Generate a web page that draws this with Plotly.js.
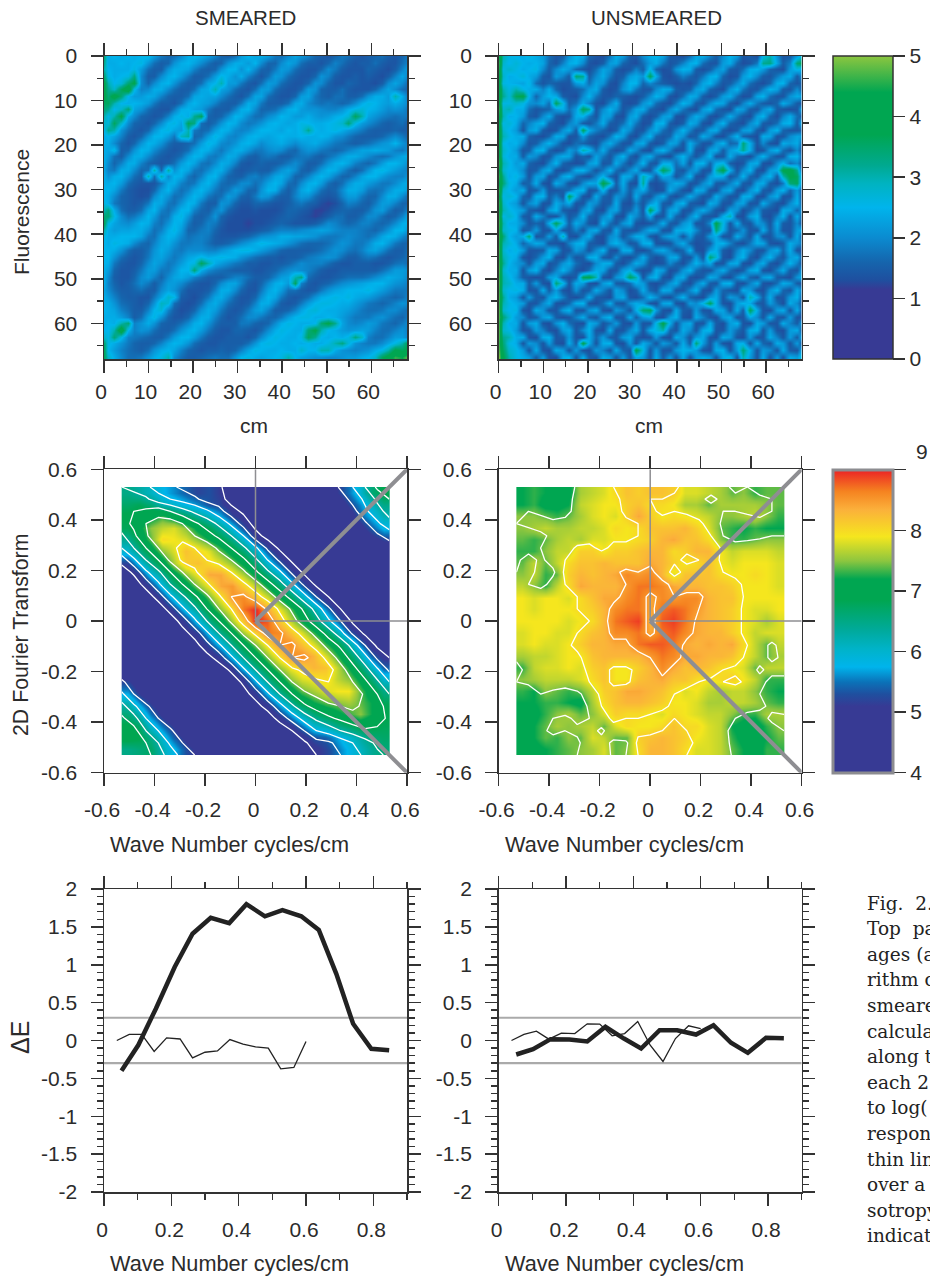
<!DOCTYPE html>
<html><head><meta charset="utf-8">
<script src="https://cdn.plot.ly/plotly-3.0.1.min.js"></script>
<style>html,body{margin:0;padding:0;background:#fff}</style></head>
<body><div id="chart" style="width:930px;height:1277px"></div>
<script>
// Sample positions of the image panels, cm
const imageX=[0,0.8,2.3,3.8,5.3,6.8,8.3,9.8,11.3,12.8,14.3,15.8,17.3,18.8,20.3,21.8,23.3,24.8,26.3,27.8,29.3,30.8,32.3,33.8,35.3,36.8,38.3,39.8,41.3,42.8,44.3,45.8,47.3,48.8,50.3,51.8,53.3,54.8,56.3,57.8,59.3,60.8,62.3,63.8,65.3,66.8,68];
const imageY=[0,1.5,3,4.5,6,7.5,9,10.5,12,13.5,15,16.5,18,19.5,21,22.5,24,25.5,27,28.5,30,31.5,33,34.5,36,37.5,39,40.5,42,43.5,45,46.5,48,49.5,51,52.5,54,55.5,57,58.5,60,61.5,63,64.5,66,67.5];
// log fluorescence x10, SMEARED image, rows top to bottom
const smearedTenths=[
[34,24,25,24,25,24,25,26,22,18,16,17,20,24,25,24,22,19,16,15,17,22,25,23,24,22,18,17,20,23,21,19,16,15,14,16,18,17,15,14,15,16,17,15,14,16,18],
[32,24,24,25,24,25,26,21,17,15,16,21,24,25,23,20,17,15,16,21,24,24,22,25,20,16,16,20,23,21,17,15,15,14,16,19,17,15,14,15,15,17,15,14,14,17,19],
[30,25,24,24,24,26,22,17,15,15,21,24,24,23,19,16,15,16,21,25,25,21,25,20,16,15,18,22,21,17,15,14,14,16,20,18,15,14,14,14,16,15,14,13,15,19,22],
[34,26,24,25,26,33,20,15,15,20,24,25,22,18,15,15,17,22,26,24,21,24,19,16,14,17,22,21,17,15,14,14,16,21,19,15,14,14,15,14,15,14,13,15,19,23,20],
[38,30,25,27,34,38,20,16,20,24,25,21,17,15,15,17,23,25,30,22,22,18,15,14,17,22,21,17,15,14,14,16,21,20,16,14,14,16,15,14,14,13,15,20,23,20,17],
[38,32,28,36,42,26,19,20,24,24,20,17,15,15,17,23,24,30,23,21,17,15,14,17,22,22,17,15,14,14,16,22,21,16,15,15,17,15,14,14,14,16,20,23,20,17,16],
[38,34,40,34,25,22,22,24,23,19,16,15,15,17,23,24,23,23,20,17,15,14,17,23,23,17,15,14,14,16,22,23,18,16,15,17,17,15,15,17,21,24,24,22,30,24,19],
[36,36,30,25,24,25,24,22,18,15,15,14,17,23,25,23,22,19,16,15,15,18,24,23,18,15,15,15,17,23,24,20,18,17,18,17,16,17,20,24,26,25,23,22,24,22,20],
[34,32,25,28,34,23,21,17,15,14,14,18,24,25,23,22,18,15,15,15,19,24,25,20,16,16,17,20,24,25,22,21,21,20,19,19,21,24,26,27,25,24,22,20,21,20,18],
[30,26,30,38,24,20,16,15,14,15,19,24,26,24,32,36,16,15,16,20,25,24,20,17,17,20,22,25,24,22,22,24,22,21,22,24,25,27,36,30,23,21,19,18,17,18,18],
[28,27,36,28,20,16,15,14,16,20,25,26,23,36,33,17,15,17,21,25,24,20,18,19,21,24,25,24,23,24,26,25,24,24,25,26,28,34,26,22,20,18,16,15,16,17,15],
[26,32,30,21,17,15,14,16,21,25,26,23,22,30,18,16,17,22,25,24,20,19,20,23,25,25,24,23,25,24,26,32,25,24,25,26,24,22,20,18,16,15,15,15,16,15,15],
[24,25,23,19,15,14,16,21,25,25,22,18,29,31,16,17,22,26,24,20,19,21,24,25,24,23,24,25,24,24,25,24,24,25,24,21,20,18,16,15,15,15,16,18,20,18,16],
[24,24,20,16,14,16,21,25,24,21,17,15,15,16,17,22,26,24,20,19,21,24,25,23,20,22,23,24,22,20,22,23,24,22,20,18,17,16,15,16,17,19,21,22,25,21,19],
[24,23,26,15,16,21,25,24,20,17,15,14,15,17,22,25,24,20,18,21,24,24,21,18,18,20,21,20,17,16,19,21,20,18,17,16,17,19,21,23,23,24,23,22,19,18,20],
[24,22,17,15,20,24,24,20,17,15,14,15,17,22,25,24,19,18,20,24,23,19,16,15,17,18,17,15,15,17,18,18,16,15,17,19,22,24,24,22,20,18,17,18,21,23,24],
[24,20,16,19,24,24,19,16,15,14,15,17,22,25,23,18,17,20,24,23,19,15,14,15,16,15,15,16,18,20,18,15,15,17,21,24,25,23,19,17,16,18,22,25,25,23,21],
[23,19,18,24,24,20,16,17,30,16,31,21,25,23,18,17,20,24,24,19,15,14,15,16,15,15,18,21,23,20,16,15,18,22,25,24,20,17,15,17,21,25,26,24,22,20,19],
[24,21,24,25,21,17,15,30,17,30,20,25,24,18,16,19,24,25,20,16,15,15,18,19,17,19,23,24,21,16,16,19,23,25,23,19,16,16,19,23,25,25,22,20,19,19,21],
[24,24,25,22,17,15,14,14,14,18,24,24,19,17,18,23,25,21,17,16,17,20,20,17,19,23,25,23,17,16,20,24,25,22,17,15,17,21,24,24,22,20,18,18,20,23,24],
[25,25,23,18,15,14,13,13,16,22,25,20,17,19,23,25,22,18,16,18,22,20,16,16,21,25,24,18,15,18,23,25,21,17,15,16,20,24,24,22,18,17,18,21,24,24,22],
[25,24,20,16,15,14,13,14,20,24,21,17,18,22,25,23,18,16,17,22,20,16,15,18,22,21,17,15,15,19,22,21,17,15,14,15,19,22,22,18,16,16,20,24,24,20,17],
[26,24,18,16,15,14,15,18,24,23,18,17,21,25,24,18,15,15,21,20,16,14,14,16,16,15,14,14,15,17,18,16,15,13,12,13,16,19,18,16,15,18,22,22,19,16,16],
[30,33,24,17,15,15,17,23,25,19,17,20,25,25,19,16,15,19,21,16,14,13,13,14,13,13,13,14,16,16,15,14,12,12,13,15,16,16,15,15,17,21,22,18,15,16,19],
[34,34,26,20,17,18,21,25,22,17,18,24,26,21,16,15,17,21,16,14,13,13,13,13,13,13,14,15,16,15,14,13,12,13,15,17,17,15,15,17,20,20,17,15,16,19,23],
[36,26,23,21,20,22,25,24,19,17,21,25,24,18,15,16,19,18,15,13,13,13,12,13,13,14,15,16,15,14,14,14,15,17,20,19,17,16,17,19,19,17,16,17,20,24,25],
[30,24,22,23,23,24,24,21,17,19,24,26,22,16,16,18,19,16,14,13,13,13,13,14,15,16,18,19,19,19,20,21,22,23,22,20,19,19,19,18,17,16,18,21,25,25,22],
[26,24,24,25,25,25,23,18,17,22,25,24,20,17,18,19,18,15,14,14,14,15,16,18,20,21,22,24,24,23,23,22,21,19,18,18,19,20,19,18,17,19,23,25,24,20,18],
[25,24,26,25,24,20,17,16,19,23,24,21,18,18,19,19,17,15,15,16,18,20,22,24,26,25,24,23,21,19,17,16,16,16,17,19,21,20,18,18,20,24,25,22,18,16,16],
[25,25,24,21,17,15,15,17,21,24,22,19,18,20,20,20,19,19,21,23,25,26,26,24,22,20,18,16,15,15,15,15,16,17,19,21,20,18,17,19,22,23,20,17,15,15,17],
[25,25,21,17,15,14,15,18,22,23,20,18,20,23,24,26,24,25,26,25,24,21,19,17,16,15,15,14,15,15,16,18,19,20,21,20,17,15,15,17,18,17,15,14,15,16,17],
[25,24,18,15,14,14,16,20,23,21,18,19,22,25,26,36,30,24,22,20,18,17,15,15,14,14,15,15,16,18,20,19,19,19,17,15,14,14,15,15,15,14,14,15,17,18,17],
[24,22,16,14,14,15,18,22,22,18,18,21,25,25,34,24,20,18,17,16,15,15,15,14,14,15,16,18,20,21,20,19,17,15,14,14,15,15,15,15,15,15,17,19,22,22,21],
[24,20,15,14,14,16,20,22,19,16,20,23,24,22,19,17,15,15,15,17,19,19,17,15,15,16,19,22,23,30,33,17,15,14,14,15,16,17,17,17,18,20,22,24,23,22,20],
[24,19,16,14,15,17,20,18,15,18,22,22,20,17,15,14,14,16,20,23,23,19,15,14,16,20,24,25,22,36,19,15,14,15,16,18,20,21,22,23,24,25,25,23,21,20,19],
[23,20,17,15,15,16,17,15,15,20,23,21,17,14,14,14,15,19,24,24,20,16,14,14,18,23,25,22,17,17,15,14,15,18,21,23,24,25,25,25,26,24,22,20,18,18,18],
[24,22,19,16,15,15,14,14,18,23,28,26,15,14,13,15,18,23,24,20,16,14,14,16,21,25,23,18,15,14,15,17,21,24,25,26,25,26,24,23,22,20,18,17,16,17,19],
[24,24,21,17,16,15,14,16,21,29,27,17,14,13,14,17,22,24,21,17,15,14,15,19,24,24,19,15,14,15,18,22,25,26,26,25,24,24,22,20,18,17,16,17,19,21,20],
[25,24,23,19,17,15,15,19,25,27,19,15,13,14,16,21,24,22,18,15,14,15,18,22,23,19,15,15,16,19,23,26,27,25,24,24,23,22,20,18,17,17,18,20,20,18,17],
[24,24,24,22,19,15,17,23,26,21,16,14,14,16,20,24,24,19,16,14,15,17,20,20,18,16,16,18,22,25,26,26,24,24,25,24,22,20,18,18,18,20,21,19,17,16,18],
[24,25,24,30,34,19,21,24,21,16,15,15,17,20,24,25,21,17,15,15,15,18,18,16,15,16,20,24,26,25,24,24,25,34,38,32,23,20,19,20,22,21,18,17,16,18,20],
[25,25,30,42,25,19,21,20,17,15,15,17,21,24,25,22,18,15,14,14,16,16,15,14,16,20,24,26,25,24,24,34,38,30,25,24,22,21,22,23,22,19,17,17,19,21,19],
[28,26,34,26,19,18,17,16,15,15,18,22,25,25,22,18,15,14,14,15,15,15,14,16,20,24,26,25,24,24,26,36,32,25,24,25,24,26,33,28,19,17,17,19,22,22,20],
[34,26,24,21,18,16,15,15,16,19,23,25,24,21,17,15,14,14,15,15,15,15,17,21,25,26,25,24,24,25,24,25,24,24,26,30,33,27,21,19,18,18,20,23,26,30,36],
[36,25,22,19,17,16,15,17,21,24,25,23,19,16,15,14,15,15,16,15,16,19,23,26,25,24,24,25,24,24,28,25,25,30,30,24,21,20,19,20,21,24,26,30,38,36,38],
[36,28,24,20,17,17,18,21,24,26,30,20,17,15,15,16,17,18,17,17,21,25,26,24,23,24,25,26,30,25,23,22,21,21,20,20,21,22,22,24,25,28,36,40,46,44,48]];
// log fluorescence x10, UNSMEARED image, rows top to bottom
const unsmearedTenths=[
[44,30,26,25,24,26,24,22,17,14,15,21,25,24,16,14,13,18,24,22,15,14,20,24,25,23,15,14,13,17,23,24,19,15,20,25,22,14,15,13,26,30,21,14,15,22,28],
[46,28,25,27,25,24,25,23,16,14,19,24,25,20,14,13,15,22,23,16,14,13,17,22,24,18,14,15,19,24,25,17,14,14,22,24,16,13,14,18,32,33,23,15,19,34,36],
[45,26,28,26,24,25,26,20,15,20,24,22,16,14,13,17,23,21,15,13,14,19,15,26,16,13,14,21,25,24,15,13,15,20,23,15,14,17,24,25,22,16,14,13,22,26,24],
[44,28,24,25,27,24,22,15,14,22,19,15,34,32,15,20,24,18,14,15,22,24,21,36,24,14,13,15,19,16,14,18,24,25,16,13,14,22,25,20,15,14,18,22,24,15,20],
[42,26,25,24,23,26,17,14,16,15,14,14,22,24,17,23,21,14,13,19,25,25,16,20,17,15,14,13,14,13,16,23,25,19,14,15,20,24,17,14,13,16,24,25,16,14,16],
[44,30,26,30,26,24,24,19,24,16,13,14,15,17,22,24,15,13,14,21,24,18,14,14,20,24,23,15,14,15,22,24,16,14,13,21,25,18,14,14,19,25,23,15,14,20,15],
[42,32,27,36,38,25,16,22,25,24,15,14,13,20,25,18,14,14,16,15,14,13,15,20,25,22,14,13,17,24,23,15,13,15,22,24,17,13,14,23,25,17,14,14,21,24,22],
[44,26,26,28,26,21,20,23,17,36,26,15,17,24,19,14,13,19,24,14,13,14,21,24,17,14,13,18,25,22,15,14,20,24,23,15,13,19,24,18,15,14,16,24,20,15,14],
[46,28,30,24,24,17,14,15,16,22,24,17,22,36,32,14,20,25,21,14,17,23,24,16,14,13,20,24,18,14,13,22,25,17,14,13,23,22,15,14,20,24,15,14,13,14,24],
[44,30,24,25,22,15,14,20,24,15,13,14,24,25,18,14,23,22,14,13,22,24,15,13,15,22,23,14,13,19,24,21,14,13,17,24,18,14,13,22,25,16,13,19,24,17,15],
[42,26,27,24,16,19,23,25,16,14,13,19,22,15,14,18,24,15,14,17,24,18,13,14,24,25,15,13,15,24,22,14,13,20,25,16,14,13,20,24,15,14,17,24,25,15,24],
[44,28,25,22,14,22,24,15,13,14,21,24,15,36,24,19,16,13,15,24,20,14,14,21,24,17,14,19,25,19,14,15,23,24,15,13,15,22,23,15,13,22,25,16,14,14,16],
[42,30,26,24,24,16,14,13,16,24,23,14,14,22,16,14,13,18,25,22,14,13,20,25,16,14,16,24,21,14,15,24,20,14,13,19,25,16,14,13,24,23,14,14,20,23,22],
[44,26,24,25,20,14,15,21,25,20,14,13,17,16,14,13,20,24,19,14,14,22,24,15,13,15,23,22,14,24,19,14,14,21,25,16,17,34,24,14,20,14,13,24,22,24,16],
[42,28,25,22,14,15,24,25,16,13,15,22,19,30,26,17,24,16,13,15,24,20,14,13,22,25,19,13,14,24,14,13,23,24,15,22,25,32,24,13,14,22,25,17,14,20,14],
[44,27,24,24,15,22,20,14,14,21,24,23,14,16,14,23,18,14,20,25,16,13,21,24,17,14,13,20,25,18,14,19,25,14,14,24,17,15,13,20,25,18,14,14,24,25,16],
[46,30,26,22,24,16,14,13,19,25,16,14,13,14,22,24,14,15,24,18,13,18,25,15,14,24,24,17,23,14,24,25,16,24,26,15,13,14,23,24,14,13,20,25,17,20,14],
[44,28,25,24,20,14,15,22,24,14,13,16,24,25,20,14,18,25,17,14,20,24,14,14,24,36,30,16,14,20,22,14,14,30,38,24,14,20,25,14,13,22,24,38,40,32,15],
[46,32,24,26,22,14,22,23,14,15,23,25,17,14,13,19,25,16,13,24,23,15,30,24,15,24,22,14,18,25,14,13,22,25,24,14,17,25,16,14,21,25,15,30,38,36,22],
[44,34,26,24,15,16,24,14,13,24,20,14,13,20,24,23,38,30,15,24,14,13,32,14,13,15,21,24,22,14,14,20,24,15,14,19,24,15,14,23,24,15,13,18,34,36,20],
[46,28,25,22,24,14,15,22,14,14,15,17,24,25,14,15,26,14,14,22,15,21,24,16,13,14,24,19,14,13,24,23,14,13,22,24,14,13,21,25,15,14,22,25,16,22,15],
[44,26,27,25,16,14,24,25,15,19,14,36,24,14,13,24,16,14,21,19,14,24,15,14,20,24,15,13,17,24,19,14,15,24,19,14,14,24,24,14,13,21,24,14,14,24,14],
[46,28,24,22,14,20,23,14,14,24,20,24,14,14,22,20,14,15,24,14,13,19,14,21,25,15,14,22,25,15,14,13,24,22,14,14,22,23,14,14,24,18,14,13,20,25,15],
[45,30,26,24,22,15,14,13,22,25,15,14,13,21,24,14,13,22,23,14,16,22,14,36,26,14,23,24,14,14,20,24,19,14,13,23,21,13,16,22,15,14,13,24,23,16,21],
[46,26,28,25,15,14,24,19,14,14,21,14,17,25,16,14,20,24,14,13,24,20,15,24,14,14,24,16,13,20,25,15,14,14,24,30,14,13,22,25,14,13,19,25,14,24,15],
[47,30,24,24,20,14,16,14,24,36,26,15,24,20,14,13,25,17,14,21,24,14,13,14,17,24,15,14,21,24,14,14,20,38,26,14,24,15,14,22,20,14,24,15,14,20,14],
[46,28,26,25,14,16,22,14,14,24,15,14,19,14,22,24,15,14,24,15,14,14,19,24,23,14,14,24,24,26,20,14,14,34,24,14,16,21,14,14,24,15,22,14,14,22,24],
[47,34,25,22,24,34,14,15,22,15,30,14,13,21,24,14,13,20,22,14,19,24,24,15,13,20,23,22,14,22,15,14,22,24,14,14,24,19,14,24,14,14,20,21,14,24,15],
[46,30,27,24,16,20,24,22,14,14,13,19,24,25,15,14,13,22,25,21,14,15,24,25,14,13,14,20,24,16,13,14,15,24,25,19,14,13,18,24,23,14,13,15,24,21,18],
[47,28,24,26,22,14,14,15,24,23,14,14,22,19,14,20,25,14,13,24,24,14,13,16,22,24,19,14,16,25,14,13,22,25,15,13,19,24,20,14,14,21,24,16,24,14,14],
[46,30,26,24,14,13,16,22,25,14,13,20,14,15,24,25,15,14,20,14,13,17,24,16,13,15,23,24,14,14,22,14,34,28,14,13,22,25,15,13,20,25,17,14,22,24,15],
[47,32,25,22,20,14,22,24,14,15,21,24,17,14,13,20,24,24,15,13,18,24,21,14,13,14,20,16,13,19,25,20,24,14,14,23,24,14,13,21,24,15,13,18,25,19,14],
[48,28,24,24,14,22,25,15,13,19,25,20,14,13,17,24,23,14,14,22,25,16,13,14,24,22,13,14,21,25,17,14,14,20,24,17,13,15,23,25,14,13,19,24,15,14,22],
[47,30,26,22,15,14,13,14,22,24,14,13,15,36,38,30,14,13,21,24,36,30,14,23,25,14,13,22,24,14,13,15,24,22,14,13,20,24,16,14,22,24,15,14,13,21,24],
[48,30,28,24,24,15,22,14,13,34,26,14,24,22,14,13,22,25,15,14,17,24,22,14,13,15,21,24,15,13,19,24,15,14,24,25,14,13,19,24,14,13,17,24,22,15,14],
[47,28,25,26,24,14,14,24,15,22,14,13,21,14,15,24,19,14,23,20,13,15,24,16,14,24,23,14,14,20,25,14,13,22,16,14,13,24,22,14,13,21,25,16,14,24,19],
[48,32,24,22,14,22,15,14,22,25,19,14,13,16,24,15,14,13,22,24,14,13,17,25,21,14,13,19,25,16,14,13,22,24,14,22,20,14,30,24,15,24,14,14,22,25,15],
[47,30,26,24,22,14,14,20,24,14,13,16,24,25,14,13,17,24,15,14,21,24,22,14,13,23,24,14,13,22,20,26,36,24,14,13,22,25,24,15,14,22,17,13,24,20,14],
[48,28,25,26,14,13,24,21,14,14,22,25,14,14,21,24,14,13,22,19,14,24,34,36,22,14,13,24,15,14,22,14,14,24,23,14,24,15,36,24,14,13,22,24,14,24,15],
[48,34,28,22,20,14,15,22,24,15,13,14,19,24,16,14,22,25,14,14,24,15,22,24,14,13,22,25,14,13,24,19,14,13,22,24,14,14,24,20,14,24,15,14,22,14,14],
[47,30,24,24,14,22,24,14,13,21,25,17,14,13,24,22,14,17,22,14,13,22,14,14,26,38,24,14,22,24,14,14,24,15,13,22,25,14,13,24,22,14,14,24,19,15,22],
[48,28,26,22,14,14,22,19,14,13,22,24,14,20,25,14,13,24,14,14,20,24,14,24,26,30,16,14,24,20,14,24,26,14,14,22,17,14,24,25,14,22,14,13,22,24,14],
[48,32,30,24,24,14,13,24,25,14,15,22,14,13,24,16,22,15,14,22,24,15,13,14,22,14,13,24,21,14,22,24,14,13,24,22,14,13,22,14,14,24,19,14,22,15,24],
[47,34,26,24,14,22,20,14,22,14,13,24,15,38,24,14,24,25,14,13,22,14,24,20,14,22,19,14,24,15,34,22,14,22,14,13,24,25,14,24,16,14,24,22,14,22,14],
[48,36,28,26,22,14,24,14,13,24,22,14,22,14,13,22,19,14,24,16,14,38,26,14,22,14,14,22,25,24,22,14,13,24,25,14,22,34,24,14,22,20,14,24,15,14,24],
[50,38,30,26,24,22,15,22,14,13,24,25,14,24,15,14,24,22,14,22,14,24,22,14,24,15,22,14,24,14,22,24,22,14,24,26,14,30,22,14,24,14,22,14,24,22,28]];
// Wave number axes of the transform panels, cycles/cm (cell edges and sample points)
const kEdges=[-0.53,-0.484,-0.438,-0.392,-0.346,-0.3,-0.253,-0.207,-0.161,-0.115,-0.069,-0.023,0.023,0.069,0.115,0.161,0.207,0.253,0.3,0.346,0.392,0.438,0.484,0.53];
const kPoints=[-0.53,-0.482,-0.434,-0.385,-0.337,-0.289,-0.241,-0.193,-0.145,-0.096,-0.048,0,0.048,0.096,0.145,0.193,0.241,0.289,0.337,0.385,0.434,0.482,0.53];
const kRowsTopDown=[0.53,0.482,0.434,0.385,0.337,0.289,0.241,0.193,0.145,0.096,0.048,0,-0.048,-0.096,-0.145,-0.193,-0.241,-0.289,-0.337,-0.385,-0.434,-0.482,-0.53];
// log power, SMEARED transform, rows from +0.53 down to -0.53
const fftSmeared=[
[6.5,6.3,6.1,5.8,5.6,5.4,5.2,5.3,5.1,4.7,4.5,4.4,4.4,4.4,4.4,4.4,4.4,4.6,5.1,5.5,6.0,6.6,6.9],
[6.7,6.8,6.6,6.2,6.0,5.8,5.6,5.3,5.2,4.8,4.5,4.4,4.4,4.4,4.4,4.4,4.4,4.4,4.7,5.2,5.6,6.1,6.5],
[6.9,7.0,7.1,7.3,7.0,6.7,6.4,6.1,5.7,5.2,4.9,4.5,4.4,4.4,4.4,4.4,4.4,4.4,4.4,4.8,5.4,5.8,6.2],
[6.8,7.1,7.5,7.7,7.8,7.5,7.1,6.8,6.4,5.9,5.3,4.8,4.5,4.4,4.4,4.4,4.4,4.4,4.4,4.5,4.9,5.4,5.8],
[6.4,6.9,7.4,8.0,7.9,7.8,7.5,7.2,6.9,6.5,6.0,5.2,4.8,4.5,4.4,4.4,4.4,4.4,4.4,4.4,4.5,4.9,5.2],
[6.0,6.5,7.0,7.5,7.8,8.2,8.0,7.8,7.4,7.0,6.6,6.1,5.4,4.9,4.6,4.4,4.4,4.4,4.4,4.4,4.4,4.5,4.7],
[5.2,5.9,6.5,7.0,7.6,8.1,8.2,8.0,7.8,7.5,7.1,6.6,6.0,5.4,4.9,4.6,4.4,4.4,4.4,4.4,4.4,4.4,4.4],
[4.7,5.1,5.9,6.4,7.0,7.5,7.9,8.4,8.4,8.0,7.6,7.1,6.6,6.1,5.4,4.9,4.5,4.4,4.4,4.4,4.4,4.4,4.4],
[4.4,4.7,5.2,5.9,6.5,7.0,7.5,7.9,8.4,8.5,8.1,7.7,7.2,6.7,6.1,5.4,4.9,4.5,4.4,4.4,4.4,4.4,4.4],
[4.4,4.4,4.7,5.2,5.9,6.4,6.9,7.4,7.9,8.5,8.6,8.2,7.8,7.3,6.8,6.2,5.5,5.0,4.6,4.4,4.4,4.4,4.4],
[4.4,4.4,4.4,4.7,5.2,5.9,6.4,7.0,7.5,8.0,8.7,9.0,8.4,7.9,7.4,6.9,6.3,5.6,5.0,4.6,4.4,4.4,4.4],
[4.4,4.4,4.4,4.4,4.7,5.2,5.9,6.5,7.0,7.6,8.2,9.0,8.8,8.2,7.7,7.2,6.7,6.1,5.5,4.9,4.5,4.4,4.4],
[4.4,4.4,4.4,4.4,4.4,4.8,5.2,5.9,6.5,7.0,7.6,8.1,8.7,8.6,8.2,7.8,7.3,6.8,6.2,5.4,4.9,4.5,4.4],
[4.4,4.4,4.4,4.4,4.4,4.4,4.8,5.3,5.9,6.5,7.0,7.5,8.0,8.5,8.6,8.2,7.8,7.3,6.9,6.3,5.5,4.9,4.6],
[4.4,4.4,4.4,4.4,4.4,4.4,4.4,4.8,5.2,5.9,6.5,7.0,7.5,8.0,8.5,8.6,8.3,7.8,7.3,6.8,6.2,5.4,5.0],
[4.6,4.4,4.4,4.4,4.4,4.4,4.4,4.4,4.7,5.1,5.9,6.5,7.0,7.5,7.9,8.1,8.3,8.2,7.7,7.2,6.7,6.1,5.4],
[5.1,4.7,4.4,4.4,4.4,4.4,4.4,4.4,4.4,4.7,5.1,5.9,6.5,7.0,7.5,7.8,7.9,8.0,7.7,7.5,7.1,6.6,6.0],
[5.6,5.0,4.6,4.4,4.4,4.4,4.4,4.4,4.4,4.4,4.8,5.2,5.9,6.5,7.0,7.4,7.6,7.8,7.9,7.9,7.4,7.0,6.5],
[6.2,5.6,5.1,4.7,4.4,4.4,4.4,4.4,4.4,4.4,4.4,4.8,5.2,5.8,6.4,6.9,7.2,7.4,7.5,7.6,7.4,7.2,6.8],
[6.6,6.2,5.5,5.0,4.6,4.4,4.4,4.4,4.4,4.4,4.4,4.4,4.7,5.2,5.7,6.2,6.6,6.9,7.1,7.3,7.5,7.2,6.9],
[6.9,6.7,6.0,5.5,5.1,4.6,4.4,4.4,4.4,4.4,4.4,4.4,4.4,4.6,5.0,5.5,6.0,6.2,6.5,6.7,6.9,6.9,6.8],
[7.0,6.9,6.5,6.0,5.4,5.0,4.6,4.4,4.4,4.4,4.4,4.4,4.4,4.4,4.6,4.9,5.3,5.4,5.7,6.0,6.3,6.6,6.7],
[6.5,6.6,6.7,6.2,5.8,5.3,5.0,4.6,4.4,4.4,4.4,4.4,4.4,4.4,4.4,4.7,5.0,5.2,5.5,5.8,6.1,6.4,6.6]];
// log power, UNSMEARED transform, rows from +0.53 down to -0.53
const fftUnsmeared=[
[7.2,7.3,7.2,7.2,7.1,7.6,7.7,7.8,8.0,8.2,8.1,8.2,8.2,8.1,7.8,7.8,7.7,7.6,7.4,7.5,7.3,7.4,7.4],
[7.2,7.3,7.1,7.1,7.2,7.7,7.8,7.9,7.9,8.1,8.2,8.0,8.0,7.9,7.6,7.6,7.4,7.6,7.6,7.6,7.6,7.5,7.4],
[7.5,7.5,7.4,7.3,7.4,7.6,7.8,7.9,7.8,8.1,8.4,8.1,7.9,8.0,7.9,7.8,7.7,7.5,7.5,7.6,7.7,7.5,7.3],
[7.5,7.6,7.7,7.6,7.6,7.7,7.7,7.8,8.0,7.9,8.0,8.2,8.2,8.2,8.3,8.1,7.8,7.4,7.3,7.2,7.3,7.2,7.2],
[7.4,7.3,7.4,7.6,7.7,7.6,7.8,7.8,7.9,7.9,8.0,8.1,8.3,8.4,8.2,8.2,8.0,7.5,7.3,7.3,7.4,7.5,7.5],
[7.3,7.3,7.5,7.7,7.7,8.1,8.1,7.9,8.1,8.1,8.2,8.3,8.3,8.0,8.1,8.3,8.3,7.9,7.7,7.8,7.8,7.8,7.7],
[7.4,7.7,7.4,7.7,8.0,8.2,8.2,8.3,8.2,8.2,8.2,8.4,8.3,8.1,7.9,8.0,8.2,7.9,7.8,7.9,7.9,7.9,7.8],
[7.5,7.7,7.3,7.4,8.1,8.3,8.2,8.3,8.4,8.6,8.5,8.6,8.3,7.8,8.2,8.2,8.2,8.0,7.9,7.9,8.0,7.9,7.8],
[7.7,7.5,7.3,7.7,8.0,8.4,8.3,8.3,8.3,8.5,8.7,8.7,8.6,8.4,8.3,8.3,8.2,8.2,8.1,7.9,7.9,7.9,7.8],
[7.9,7.8,7.9,7.9,7.8,8.0,8.2,8.4,8.4,8.6,8.7,8.4,8.6,8.5,8.6,8.6,8.3,8.2,8.2,7.9,7.9,7.9,7.9],
[7.9,7.8,7.9,7.9,7.9,8.0,8.1,8.3,8.6,8.7,8.7,8.4,8.7,8.8,8.7,8.5,8.3,8.2,8.1,7.9,7.8,7.8,7.9],
[7.9,7.9,7.9,7.9,7.8,7.9,8.0,8.3,8.7,8.8,8.9,8.3,8.8,8.9,8.7,8.4,8.3,8.2,8.1,7.9,7.8,7.6,7.8],
[7.8,7.9,7.9,7.8,7.8,8.0,8.2,8.3,8.6,8.6,8.7,8.4,8.7,8.8,8.6,8.4,8.3,8.3,8.1,7.9,7.7,7.8,7.8],
[7.8,7.9,7.8,7.8,7.9,8.1,8.3,8.3,8.4,8.4,8.7,8.8,8.8,8.7,8.4,8.3,8.4,8.3,8.4,8.0,7.7,7.4,7.7],
[7.6,7.7,7.7,7.8,7.9,7.9,8.2,8.3,8.3,8.3,8.3,8.5,8.7,8.6,8.4,8.4,8.3,8.3,8.2,7.9,7.7,7.4,7.6],
[7.3,7.7,7.8,7.8,7.9,7.8,8.1,8.2,7.9,7.9,8.1,8.3,8.6,8.4,8.2,8.3,8.2,8.0,7.9,7.8,7.4,7.7,7.7],
[7.5,7.6,7.7,7.7,7.7,7.8,8.0,8.2,7.9,7.9,8.2,8.3,8.4,8.2,8.2,8.0,7.9,8.0,8.1,7.9,7.7,7.3,7.3],
[7.3,7.2,7.5,7.4,7.3,7.4,7.7,8.1,8.2,8.4,8.4,8.3,8.2,8.0,7.8,7.9,7.7,7.6,7.7,7.7,7.5,7.3,7.2],
[7.2,7.2,7.3,7.3,7.2,7.1,7.6,8.0,8.2,8.3,8.3,8.2,8.1,7.9,7.9,7.8,7.6,7.6,7.7,7.7,7.6,7.4,7.3],
[7.1,7.1,7.3,7.5,7.6,7.4,7.5,7.8,8.1,8.0,8.0,7.9,7.8,8.0,7.9,7.8,7.7,7.7,7.5,7.3,7.3,7.6,7.6],
[7.1,7.2,7.4,7.6,7.5,7.6,7.7,7.4,7.8,8.0,7.9,7.9,8.0,8.2,8.0,8.0,7.8,7.7,7.2,7.1,7.0,7.3,7.5],
[7.0,7.2,7.4,7.3,7.5,7.4,7.8,7.7,7.4,7.4,8.1,8.2,8.3,8.2,8.1,7.9,7.8,7.7,7.3,7.1,7.1,7.2,7.4],
[7.0,7.1,7.2,7.3,7.4,7.5,7.6,7.8,7.4,7.5,8.0,8.3,8.3,8.2,8.0,7.8,7.8,7.7,7.4,7.2,7.0,7.3,7.3]];
// Wedge and axis guide lines of the transform panels
const wedgeUpX=[0,0.6], wedgeUpY=[0,0.6], wedgeDownX=[0,0.6], wedgeDownY=[0,-0.6];
const guideVX=[0,0], guideVY=[0,0.6], guideHX=[0,0.6], guideHY=[0,0];
// Anisotropy curves, left column
const thickX=[0.052,0.102,0.154,0.21,0.263,0.317,0.372,0.423,0.478,0.53,0.586,0.638,0.69,0.74,0.794,0.847];
const smearedThick=[-0.40,-0.06,0.42,0.97,1.41,1.62,1.55,1.80,1.64,1.72,1.64,1.46,0.88,0.22,-0.11,-0.13];
const thinX=[0.038,0.075,0.112,0.149,0.186,0.226,0.263,0.30,0.337,0.374,0.413,0.45,0.488,0.525,0.564,0.60];
const smearedThin=[0,0.08,0.08,-0.145,0.035,0.02,-0.23,-0.155,-0.137,0.013,-0.048,-0.084,-0.10,-0.374,-0.356,-0.013];
// Anisotropy curves, right column
const unsmearedThick=[-0.185,-0.114,0.018,0.013,-0.013,0.18,0.026,-0.106,0.136,0.136,0.079,0.2,-0.03,-0.163,0.035,0.03];
const unsmearedThin=[0,0.08,0.123,0.018,0.097,0.092,0.22,0.216,0.062,0.092,0.25,-0.062,-0.277,0.026,0.194,0.158];
// Significance band
const bandX=[0,0.9], bandUpper=[0.3,0.3], bandLower=[-0.3,-0.3];
// Ticks
const cmTicks=[0,10,20,30,40,50,60], cmTickLabels=['0','10','20','30','40','50','60'];
const kTicks=[-0.6,-0.4,-0.2,0,0.2,0.4,0.6], kTickLabels=['-0.6','-0.4','-0.2','0','0.2','0.4','0.6'];
const waveTicks=[0,0.2,0.4,0.6,0.8], waveTickLabels=['0','0.2','0.4','0.6','0.8'];
const deTicks=[-2,-1.5,-1,-0.5,0,0.5,1,1.5,2], deTickLabels=['-2','-1.5','-1','-0.5','0','0.5','1','1.5','2'];
const bar1Ticks=[0,1,2,3,4,5], bar1Labels=['0','1','2','3','4','5'];
const bar2Ticks=[4,5,6,7,8,9], bar2Labels=['4','5','6','7','8',''];
const captionLines=['Fig.  2.','Top  pa','ages (a','rithm o','smeare','calcula','along t','each 2','to log(','respon','thin lin','over a','sotropy','indicat'];

const W=930,H=1277,FONT='"Liberation Sans",Arial,sans-serif',INK='#2b2b2b',FS=21;
const navy='#373a94';
const scale1=[[0,navy],[0.23,navy],[0.26,'#1f4f9f'],[0.32,'#1565ad'],[0.40,'#0b8bd0'],[0.50,'#00b4ec'],[0.58,'#00b3c0'],[0.64,'#00a98f'],[0.74,'#00a651'],[0.88,'#00a651'],[1,'#8cc63f']];
const scale2=[[0,navy],[0.22,navy],[0.26,'#1f4f9f'],[0.30,'#0b72b8'],[0.35,'#00b4ec'],[0.41,'#00b3c8'],[0.47,'#00aa9c'],[0.57,'#00a651'],[0.64,'#00a651'],[0.70,'#8dc63f'],[0.78,'#f5e61e'],[0.87,'#fbb03b'],[0.93,'#f58220'],[0.99,'#ed3024'],[1,'#ed2024']];
const tenth=m=>m.map(r=>r.map(v=>v/10));
const colL=[104,407], colR=[498.7,801.7];
const rowT=[56,359], rowM=[469.3,772.7], rowB=[889,1192];
const dx=p=>[p[0]/W,p[1]/W], dy=p=>[1-p[1]/H,1-p[0]/H];

function axis(dom,anchor,range,tv,tt,minor,extra){
  const a=Object.assign({domain:dom,anchor:anchor,range:range,fixedrange:true,showgrid:false,zeroline:false,
    showline:true,mirror:'ticks',linecolor:'#333',linewidth:1.5,ticks:'outside',ticklen:12,tickwidth:1.5,tickcolor:'#333',
    tickmode:'array',tickvals:tv,ticktext:tt,tickfont:{family:FONT,size:FS,color:INK},ticklabelstandoff:9},extra||{});
  if(minor)a.minor={tickmode:'linear',tick0:0,dtick:minor,ticks:'outside',ticklen:6,tickwidth:1.5,tickcolor:'#333',showgrid:false};
  return a;
}
const layout={width:W,height:H,margin:{l:0,r:0,t:0,b:0},paper_bgcolor:'#fff',plot_bgcolor:'#fff',showlegend:false,
  xaxis:axis(dx(colL),'y',[0,68],cmTicks,cmTickLabels,5,{ticklabelshift:-3,ticklabelstandoff:1}),
  yaxis:axis(dy(rowT),'x',[68,0],cmTicks,cmTickLabels,5),
  xaxis2:axis(dx(colR),'y2',[0,68],cmTicks,cmTickLabels,5,{ticklabelshift:-3,ticklabelstandoff:1}),
  yaxis2:axis(dy(rowT),'x2',[68,0],cmTicks,cmTickLabels,5),
  xaxis3:axis(dx(colL),'y3',[-0.6,0.6],kTicks,kTickLabels,null,{ticklabelshift:-2,ticklabelstandoff:6}),
  yaxis3:axis(dy(rowM),'x3',[-0.6,0.6],kTicks,kTickLabels,null),
  xaxis4:axis(dx(colR),'y4',[-0.6,0.6],kTicks,kTickLabels,null,{ticklabelshift:-2,ticklabelstandoff:6}),
  yaxis4:axis(dy(rowM),'x4',[-0.6,0.6],kTicks,kTickLabels,null),
  xaxis5:axis(dx(colL),'y5',[0,0.9],waveTicks,waveTickLabels,0.1,{ticklabelshift:-2,ticklabelstandoff:6}),
  yaxis5:axis(dy(rowB),'x5',[-2,2],deTicks,deTickLabels,0.1),
  xaxis6:axis(dx(colR),'y6',[0,0.9],waveTicks,waveTickLabels,0.1,{ticklabelshift:-2,ticklabelstandoff:6}),
  yaxis6:axis(dy(rowB),'x6',[-2,2],deTicks,deTickLabels,0.1),
  annotations:[]
};
function note(text,px,py,o){
  layout.annotations.push(Object.assign({text:text,xref:'paper',yref:'paper',x:px/W,y:1-py/H,showarrow:false,xanchor:'center',yanchor:'middle',
    font:{family:FONT,size:FS,color:INK},borderpad:0},o||{}));
}
const wnFont={family:FONT,size:21.7,color:INK}, headFont={family:FONT,size:20.5,color:INK};
note('SMEARED',245.5,18,{font:headFont}); note('UNSMEARED',656,18,{font:headFont});
note('cm',254,425); note('cm',649,425);
[845,1263].forEach(py=>{note('Wave Number cycles/cm',229.5,py,{font:wnFont});note('Wave Number cycles/cm',624.5,py,{font:wnFont});});
note('Fluorescence',22,212,{textangle:-90});
note('2D Fourier Transform',21,635,{textangle:-90,font:{family:FONT,size:21.3,color:INK}});
note('ΔE',20,1038,{textangle:-90,font:{family:FONT,size:25,color:INK}});
note('9',922,452);
captionLines.forEach((t,i)=>note(t.replace(/  /g,'\u00a0\u00a0'),866,903+i*25.6,{xanchor:'left',font:{family:'"DejaVu Serif",serif',size:18.5,color:'#222'}}));

const bar=(py,tv,tt,outline,ow)=>({x:832.7/W,xanchor:'left',y:1-py[1]/H,yanchor:'bottom',len:py[1]-py[0],lenmode:'pixels',thickness:60,thicknessmode:'pixels',
  xpad:0,ypad:0,outlinecolor:outline,outlinewidth:ow,ticks:'outside',ticklen:12,tickwidth:1.5,tickcolor:'#333',tickmode:'array',tickvals:tv,ticktext:tt,
  tickprefix:'\u00a0\u00a0\u00a0',tickfont:{family:FONT,size:FS,color:INK},borderwidth:0});
const img=(z,xa,ya,show)=>Object.assign({type:'heatmap',x:imageX,y:imageY,z:tenth(z),xaxis:xa,yaxis:ya,zmin:0,zmax:5,colorscale:scale1,zsmooth:'best',hoverinfo:'skip',showscale:show},show?{colorbar:bar(rowT,bar1Ticks,bar1Labels,'#333',1.5)}:{});
const fftHeat=(z,xa,ya,show)=>Object.assign({type:'heatmap',x:kEdges,y:kEdges.slice().reverse(),z:z,xaxis:xa,yaxis:ya,zmin:4,zmax:9,colorscale:scale2,zsmooth:'best',hoverinfo:'skip',showscale:show},show?{colorbar:bar(rowM,bar2Ticks,bar2Labels,'#8c8c90',3)}:{});
const fftLines=(z,xa,ya,start,end,size)=>({type:'contour',x:kPoints,y:kRowsTopDown,z:z,xaxis:xa,yaxis:ya,showscale:false,autocontour:false,hoverinfo:'skip',
  contours:{coloring:'none',start:start,end:end,size:size},line:{color:'#fff',width:1.3,smoothing:0}});
const ln=(x,y,xa,ya,color,width)=>({type:'scatter',mode:'lines',x:x,y:y,xaxis:xa,yaxis:ya,line:{color:color,width:width},hoverinfo:'skip',cliponaxis:false});
const guides=(xa,ya)=>[ln(guideVX,guideVY,xa,ya,'#8e8e92',1.5),ln(guideHX,guideHY,xa,ya,'#8e8e92',1.5),ln(wedgeUpX,wedgeUpY,xa,ya,'#8e8e92',4),ln(wedgeDownX,wedgeDownY,xa,ya,'#8e8e92',4)];
const lines=(thick,thin,xa,ya)=>[ln(bandX,bandUpper,xa,ya,'#aaaaaa',2.2),ln(bandX,bandLower,xa,ya,'#aaaaaa',2.2),ln(thinX,thin,xa,ya,'#222',1.3),ln(thickX,thick,xa,ya,'#222',4.5)];
const data=[
  img(smearedTenths,'x','y',false),
  img(unsmearedTenths,'x2','y2',true),
  fftHeat(fftSmeared,'x3','y3',false),
  fftLines(fftSmeared,'x3','y3',5,9,0.5),
  ...guides('x3','y3'),
  fftHeat(fftUnsmeared,'x4','y4',true),
  fftLines(fftUnsmeared,'x4','y4',7.5,8.5,0.5),
  ...guides('x4','y4'),
  ...lines(smearedThick,smearedThin,'x5','y5'),
  ...lines(unsmearedThick,unsmearedThin,'x6','y6')
];
Plotly.newPlot('chart',data,layout,{displayModeBar:false,staticPlot:true});
</script></body></html>
